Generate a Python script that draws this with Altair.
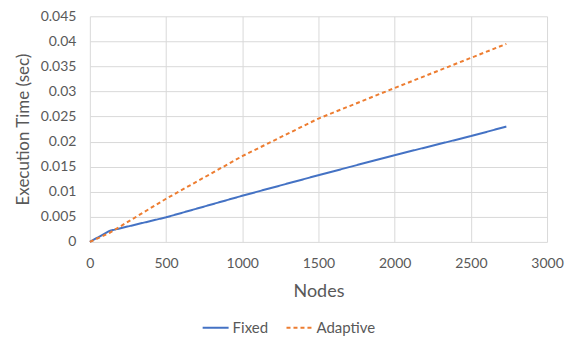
import altair as alt
import pandas as pd

nodes = [0, 130, 500, 1000, 1500, 2000, 2500, 2733]
fixed = [0, 0.0022, 0.0049, 0.0092, 0.0133, 0.0173, 0.0211, 0.0230]
adaptive = [0, 0.0018, 0.0086, 0.0171, 0.0246, 0.0307, 0.0367, 0.0395]
series = ["Fixed", "Adaptive"]
colors = ["#4472C4", "#ED7D31"]

rows = []
for n, f, a in zip(nodes, fixed, adaptive):
    rows.append({"Nodes": n, "Time": f, "Series": "Fixed"})
    rows.append({"Nodes": n, "Time": a, "Series": "Adaptive"})
df = pd.DataFrame(rows)

FONT = "Lato"

leg = dict(title=None, orient="none", direction="horizontal",
           legendX=112, legendY=298, symbolType="stroke",
           symbolSize=676, symbolStrokeWidth=2,
           labelFontSize=15, labelColor="#595959",
           labelFont=FONT, columnPadding=14, labelOffset=3)

chart = alt.Chart(df).mark_line(strokeWidth=2).encode(
    x=alt.X("Nodes:Q", scale=alt.Scale(domain=[0, 3000], nice=False),
            axis=alt.Axis(values=list(range(0, 3001, 500)), format="d", title="Nodes",
                          labelFlush=False)),
    y=alt.Y("Time:Q", scale=alt.Scale(domain=[0, 0.045], nice=False),
            axis=alt.Axis(values=[i * 0.005 for i in range(10)],
                          labelExpr="format(datum.value, '.3~f')",
                          title="Execution Time (sec)", titleFontSize=17)),
    color=alt.Color("Series:N", scale=alt.Scale(domain=series, range=colors),
                    legend=alt.Legend(**leg)),
    strokeDash=alt.StrokeDash("Series:N", scale=alt.Scale(domain=series, range=[[1, 0], [4, 3]]),
                              legend=alt.Legend(**leg)),
    order=alt.Order("Nodes:Q"),
).properties(
    width=458, height=226,
    autosize=alt.AutoSizeParams(type="none"),
    padding={"left": 82, "top": 8, "right": 20, "bottom": 100},
).configure_view(stroke=None).configure_axis(
    grid=True, gridColor="#d9d9d9", gridWidth=1, domain=False, ticks=False,
    labelFont=FONT, labelFontSize=14, labelColor="#595959",
    titleFont=FONT, titleFontSize=18, titleColor="#595959", titleFontWeight="normal",
).configure_axisX(labelPadding=15, titlePadding=12).configure_axisY(labelPadding=14, titlePadding=8)

chart.save("out.html", embed_options={"renderer": "svg", "actions": False})
